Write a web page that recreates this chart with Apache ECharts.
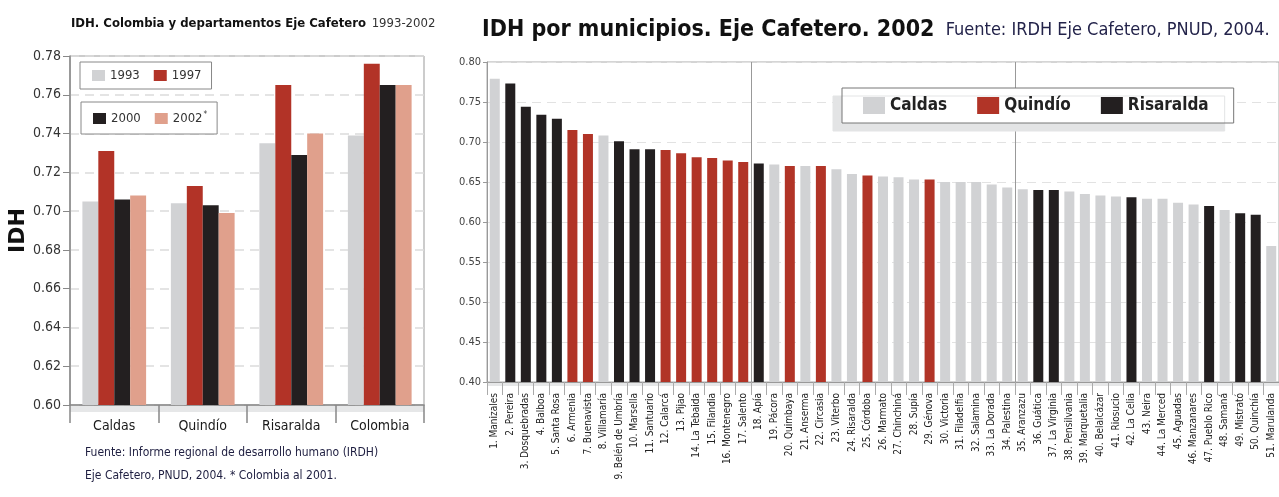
<!DOCTYPE html>
<html>
<head>
<meta charset="utf-8">
<script src="https://cdn.jsdelivr.net/npm/echarts@6/dist/echarts.min.js"></script>
<style>
  html, body { margin: 0; padding: 0; background: #fff; }
  #chart { width: 1279px; height: 497px; }
</style>
</head>
<body>
<div id="chart"></div>
<script>
// left chart: IDH by department, 1993-2002
const regions = ['Caldas', 'Quindío', 'Risaralda', 'Colombia'];
const years = ['1993', '1997', '2000', '2002*'];
const idh1993 = [0.705, 0.704, 0.735, 0.739];
const idh1997 = [0.731, 0.713, 0.765, 0.776];
const idh2000 = [0.706, 0.703, 0.729, 0.765];
const idh2002 = [0.708, 0.699, 0.740, 0.765];

// right chart: IDH by municipality, 2002
const municipios = ['Manizales', 'Pereira', 'Dosquebradas', 'Balboa', 'Santa Rosa', 'Armenia',
  'Buenavista', 'Villamaría', 'Belén de Umbría', 'Marsella', 'Santuario', 'Calarcá', 'Pijao',
  'La Tebaida', 'Filandia', 'Montenegro', 'Salento', 'Apía', 'Pácora', 'Quimbaya', 'Anserma',
  'Circasia', 'Viterbo', 'Risaralda', 'Córdoba', 'Marmato', 'Chinchiná', 'Supía', 'Génova',
  'Victoria', 'Filadelfia', 'Salamina', 'La Dorada', 'Palestina', 'Aranzazu', 'Guática',
  'La Virginia', 'Pensilvania', 'Marquetalia', 'Belalcázar', 'Riosucio', 'La Celia', 'Neira',
  'La Merced', 'Aguadas', 'Manzanares', 'Pueblo Rico', 'Samaná', 'Mistrató', 'Quinchía', 'Marulanda'];
const deptos = ['Caldas', 'Quindío', 'Risaralda'];
// C = Caldas, Q = Quindío, R = Risaralda
const deptoMunicipio = ['C', 'R', 'R', 'R', 'R', 'Q', 'Q', 'C', 'R', 'R', 'R', 'Q', 'Q', 'Q', 'Q', 'Q', 'Q',
  'R', 'C', 'Q', 'C', 'Q', 'C', 'C', 'Q', 'C', 'C', 'C', 'Q', 'C', 'C', 'C', 'C', 'C', 'C', 'R', 'R',
  'C', 'C', 'C', 'C', 'R', 'C', 'C', 'C', 'C', 'R', 'C', 'R', 'R', 'C'];
const idhMunicipio = [0.779, 0.773, 0.744, 0.734, 0.729, 0.715, 0.710, 0.708, 0.701, 0.691, 0.691,
  0.690, 0.686, 0.681, 0.680, 0.677, 0.675, 0.673, 0.672, 0.670, 0.670, 0.670, 0.666, 0.660, 0.658,
  0.657, 0.656, 0.653, 0.653, 0.650, 0.650, 0.650, 0.647, 0.643, 0.641, 0.640, 0.640, 0.638, 0.635,
  0.633, 0.632, 0.631, 0.629, 0.629, 0.624, 0.622, 0.620, 0.615, 0.611, 0.609, 0.570];

const NARROW = "'Liberation Sans Narrow', 'DejaVu Sans Condensed', 'Liberation Sans', sans-serif";
const yearColors = ['#d1d2d4', '#b23327', '#231f20', '#e0a08c'];
const deptoColors = { C: '#d1d2d4', Q: '#b13427', R: '#231f20' };

const labelsMunicipio = municipios.map((m, i) => (i + 1) + '. ' + m);

const leftSeries = [idh1993, idh1997, idh2000, idh2002].map((d, i) => ({
  name: years[i], type: 'bar', xAxisIndex: 0, yAxisIndex: 0,
  barGap: '0%', barCategoryGap: '28%',
  itemStyle: { color: yearColors[i] },
  data: d
}));

const rightSeries = ['C', 'Q', 'R'].map((code, k) => ({
  name: deptos[k], type: 'bar', xAxisIndex: 1, yAxisIndex: 1,
  barGap: '-100%', barWidth: 10,
  itemStyle: { color: deptoColors[code] },
  data: idhMunicipio.map((v, i) => deptoMunicipio[i] === code ? v : '-')
}));

const chart = echarts.init(document.getElementById('chart'), null, { renderer: 'canvas' });

chart.setOption({
  animation: false,
  backgroundColor: '#fff',
  textStyle: { fontFamily: NARROW },
  title: [
    {
      left: 71, top: 15, padding: 0,
      text: '{a|IDH. Colombia y departamentos Eje Cafetero} {b|1993-2002}',
      textStyle: {
        rich: {
          a: { fontFamily: NARROW, fontSize: 13, fontWeight: 'bold', color: '#111' },
          b: { fontFamily: NARROW, fontSize: 13, fontWeight: 'normal', color: '#333' }
        }
      }
    },
    {
      left: 482, top: 19, padding: 0,
      text: '{a|IDH por municipios. Eje Cafetero. 2002}  {b|Fuente: IRDH Eje Cafetero, PNUD, 2004.}',
      textStyle: {
        rich: {
          a: { fontFamily: NARROW, fontSize: 23, fontWeight: 'bold', color: '#111' },
          b: { fontFamily: NARROW, fontSize: 18, fontWeight: 'normal', color: '#23234a' }
        }
      }
    },
    {
      left: 85, top: 441, padding: 0,
      text: 'Fuente: Informe regional de desarrollo humano (IRDH)\nEje Cafetero, PNUD, 2004. * Colombia al 2001.',
      textStyle: { fontFamily: NARROW, fontSize: 12, fontWeight: 'normal', color: '#1e1e40', lineHeight: 23 }
    }
  ],
  legend: [
    {
      data: ['1993', '1997'], left: 80, top: 62, selectedMode: false,
      icon: 'rect', itemWidth: 13, itemHeight: 11, itemGap: 14,
      padding: [7, 10, 7, 12], borderColor: '#888', borderWidth: 1, backgroundColor: '#fff',
      textStyle: { fontFamily: NARROW, fontSize: 13, color: '#333' }
    },
    {
      data: ['2000', '2002*'], left: 81, top: 102, selectedMode: false,
      icon: 'rect', itemWidth: 13, itemHeight: 11, itemGap: 14,
      padding: [9, 10, 9, 12], borderColor: '#888', borderWidth: 1, backgroundColor: '#fff',
      formatter: n => n === '2002*' ? '2002{s|*}' : n,
      textStyle: {
        fontFamily: NARROW, fontSize: 13, color: '#333',
        rich: { s: { fontSize: 8, verticalAlign: 'top', color: '#333', padding: [0, 0, 7, 1] } }
      }
    },
    {
      data: deptos, left: 842, top: 88, selectedMode: false,
      icon: 'rect', itemWidth: 22, itemHeight: 17, itemGap: 30,
      padding: [9, 25, 9, 21], borderColor: '#777', borderWidth: 1, backgroundColor: '#fff',
      shadowColor: '#e3e4e5', shadowOffsetX: -9, shadowOffsetY: 8, shadowBlur: 0,
      textStyle: { fontFamily: NARROW, fontSize: 17, fontWeight: 'bold', color: '#222' }
    }
  ],
  grid: [
    { left: 70, width: 354, top: 56, height: 349, show: true, borderColor: '#999', borderWidth: 1 },
    { left: 487, right: 0, top: 62, height: 320, show: true, borderColor: '#aaa', borderWidth: 1 }
  ],
  xAxis: [
    {
      type: 'category', gridIndex: 0, data: regions,
      axisLine: { lineStyle: { color: '#888', width: 1.5 } },
      axisTick: { show: true, length: 18, interval: 0, lineStyle: { color: '#888', width: 1.5 } },
      axisLabel: { margin: 14, fontSize: 14, color: '#1a1a1a', fontFamily: NARROW }
    },
    {
      type: 'category', gridIndex: 1, data: labelsMunicipio,
      axisLine: { lineStyle: { color: '#999', width: 1 } },
      axisTick: { show: true, length: 13, interval: 0, lineStyle: { color: '#aaa' } },
      axisLabel: { rotate: 90, interval: 0, margin: 11, fontSize: 10, color: '#222', fontFamily: NARROW },
      splitLine: { show: true, interval: i => i === 17 || i === 34, lineStyle: { color: '#999', width: 1 } }
    }
  ],
  yAxis: [
    {
      type: 'value', gridIndex: 0, min: 0.60, max: 0.78, interval: 0.02,
      name: 'IDH', nameLocation: 'middle', nameGap: 38, nameRotate: 90,
      nameTextStyle: { fontFamily: "'DejaVu Sans', sans-serif", fontSize: 22, fontWeight: 'bold', color: '#111' },
      axisLine: { show: true, lineStyle: { color: '#888', width: 1.5 } },
      axisTick: { show: true, length: 7, lineStyle: { color: '#888' } },
      axisLabel: { formatter: v => v.toFixed(2), fontSize: 14, color: '#333', margin: 9, fontFamily: NARROW },
      splitLine: { lineStyle: { type: [9, 6], color: '#dcdcdc', width: 1.5 } }
    },
    {
      type: 'value', gridIndex: 1, min: 0.40, max: 0.80, interval: 0.05,
      axisLine: { show: true, lineStyle: { color: '#999' } },
      axisTick: { show: true, length: 4, lineStyle: { color: '#999' } },
      axisLabel: { formatter: v => v.toFixed(2), fontSize: 11, color: '#444', margin: 6 },
      splitLine: { lineStyle: { type: [9, 6], color: '#e2e2e2' } }
    }
  ],
  graphic: [
    { type: 'rect', z: -1, shape: { x: 70, y: 405, width: 354, height: 7 }, style: { fill: '#e6e7e8' } },
    { type: 'rect', z: -1, shape: { x: 487, y: 382, width: 792, height: 4 }, style: { fill: '#e6e7e8' } }
  ],
  series: leftSeries.concat(rightSeries)
});
</script>
</body>
</html>
